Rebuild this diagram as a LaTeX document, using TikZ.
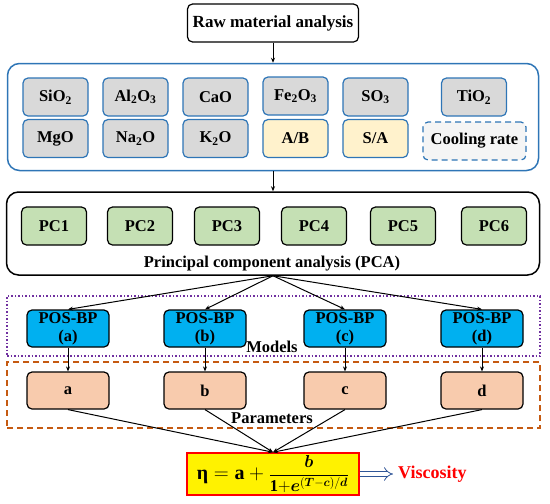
\documentclass[tikz,border=0pt]{standalone}
\usepackage{fontspec}
\setmainfont{Liberation Serif}
\usepackage{xcolor}
\usepackage{amsmath, amssymb}
\usetikzlibrary{arrows.meta}

\definecolor{boxblue}{HTML}{2E75B6}
\definecolor{oxgray}{HTML}{D9D9D9}
\definecolor{ratioyellow}{HTML}{FFF2CC}
\definecolor{pcgreen}{HTML}{C5E0B4}
\definecolor{modelblue}{HTML}{00B0F0}
\definecolor{paramorange}{HTML}{F8CBAD}
\definecolor{framepurple}{HTML}{7030A0}
\definecolor{frameorange}{HTML}{C55A11}
\definecolor{arrowblue}{HTML}{2F5597}

\begin{document}
\begin{tikzpicture}[x=1pt, y=-1pt,
  every node/.style={inner sep=0pt, font=\bfseries\fontsize{16.5}{18}\selectfont},
  oxide/.style={draw=boxblue, line width=1.2pt, fill=oxgray, rounded corners=5pt, minimum width=65pt, minimum height=38pt},
  ratio/.style={oxide, fill=ratioyellow},
  pc/.style={draw, line width=1.2pt, fill=pcgreen, rounded corners=5pt, minimum width=65pt, minimum height=38pt},
  model/.style={draw, line width=1.2pt, fill=modelblue, rounded corners=5pt, minimum width=82pt, minimum height=37pt, align=center},
  param/.style={draw, line width=1.2pt, fill=paramorange, rounded corners=5pt, minimum width=82pt, minimum height=37pt},
  link/.style={-{Stealth[length=5pt, width=4pt]}, line width=1pt}]
  \useasboundingbox (0,0) rectangle (550,504);

  % Frames
  \node[draw=boxblue, line width=1.5pt, rounded corners=12pt, minimum width=531pt, minimum height=107pt] (comp) at (273,117) {};
  \node[draw, line width=1.5pt, rounded corners=12pt, minimum width=533pt, minimum height=83pt] (pca) at (273,233.5) {};
  \node[draw=framepurple, dotted, line width=1.5pt, minimum width=533pt, minimum height=60pt] (models) at (273.5,326) {};
  \node[draw=frameorange, dashed, line width=1.2pt, dash pattern=on 6pt off 4pt, minimum width=533pt, minimum height=66pt] (params) at (273.5,395) {};

  % Raw material
  \node[draw, line width=1.2pt, rounded corners=5pt, minimum width=171pt, minimum height=38pt, font=\bfseries\fontsize{17}{20}\selectfont] (raw) at (273,23) {Raw material analysis};

  % Composition
  \node[oxide] (sio) at (55.5,97) {SiO\textsubscript{2}};
  \node[oxide] (alo) at (135.5,97) {Al\textsubscript{2}O\textsubscript{3}};
  \node[oxide] (cao) at (215.5,97) {CaO};
  \node[oxide] (feo) at (295.5,96) {Fe\textsubscript{2}O\textsubscript{3}};
  \node[oxide] (so) at (375.5,97) {SO\textsubscript{3}};
  \node[oxide] (tio) at (474,97) {TiO\textsubscript{2}};
  \node[oxide] (mgo) at (55.5,138.5) {MgO};
  \node[oxide] (nao) at (135.5,138.5) {Na\textsubscript{2}O};
  \node[oxide] (ko) at (215.5,138.5) {K\textsubscript{2}O};
  \node[ratio] (ab) at (295.5,138.5) {A/B};
  \node[ratio] (sa) at (375.5,138.5) {S/A};
  \node[oxide, dashed, dash pattern=on 6pt off 4pt, fill=gray!8, minimum width=103pt] (cool) at (474.5,141) {Cooling rate};

  % PCA
  \node[pc] (pc1) at (54,226) {PC1};
  \node[pc] (pc2) at (140,226) {PC2};
  \node[pc] (pc3) at (227,226) {PC3};
  \node[pc] (pc4) at (314,226) {PC4};
  \node[pc] (pc5) at (403,226) {PC5};
  \node[pc] (pc6) at (494,226) {PC6};
  \node (pcalabel) at (272,264) {Principal component analysis (PCA)};

  % Models
  \node[model] (posa) at (68,328.5) {POS-BP\\(a)};
  \node[model] (posb) at (205,328.5) {POS-BP\\(b)};
  \node[model] (posc) at (345,328.5) {POS-BP\\(c)};
  \node[model] (posd) at (482,328.5) {POS-BP\\(d)};
  \node (modlabel) at (272,347) {Models};

  % Parameters
  \node[param] (para) at (68,390.5) {a};
  \node[param] (parb) at (205,390.5) {b};
  \node[param] (parc) at (345,390.5) {c};
  \node[param] (pard) at (482,390.5) {d};
  \node (parlabel) at (272,418) {Parameters};

  % Fitted equation
  \node[draw=red, line width=1.5pt, fill=yellow, minimum width=172pt, minimum height=42pt, font=\bfseries\fontsize{20}{22}\selectfont] (eta) at (273,474)
    {η${}=\mathbf{a}+{}$\fontsize{16.5}{18}\selectfont$\dfrac{\boldsymbol{b}}{\mathbf{1}{+}\boldsymbol{e}^{(\boldsymbol{T}-\boldsymbol{c})/\boldsymbol{d}}}$};
  \node[text=red, anchor=west, font=\bfseries\fontsize{18}{20}\selectfont] (visc) at (398,474) {Viscosity};

  \draw[link] (raw) -- (comp);
  \draw[link] (comp) -- (pca);
  \draw[link] (pca.south) -- (posa.north);
  \draw[link] (pca.south) -- (posb.north);
  \draw[link] (pca.south) -- (posc.north);
  \draw[link] (pca.south) -- (posd.north);
  \draw[link] (posa) -- (para);
  \draw[link] (posb) -- (parb);
  \draw[link] (posc) -- (parc);
  \draw[link] (posd) -- (pard);
  \draw[link] (para.south) -- (eta.north);
  \draw[link] (parb.south) -- (eta.north);
  \draw[link] (parc.south) -- (eta.north);
  \draw[link] (pard.south) -- (eta.north);
  \draw[draw=arrowblue, line width=0.8pt, double=white, double distance=4pt, -{Implies[length=5pt]}, shorten >=5pt] (eta) -- (visc);
\end{tikzpicture}
\end{document}
